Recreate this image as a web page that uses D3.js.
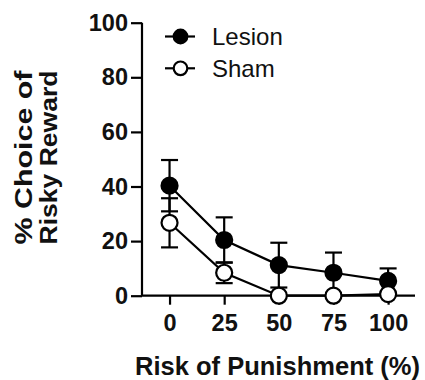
<!DOCTYPE html>
<html><head><meta charset="utf-8">
<script src="https://cdn.jsdelivr.net/npm/d3@7"></script>
<style>body{margin:0;background:#fff}svg{display:block}</style>
</head><body>
<script>
const risk = [0, 25, 50, 75, 100];
const lesionMean = [40.3, 20.4, 11.2, 8.4, 5.4];
const lesionErr = [9.4, 8.3, 8.2, 7.4, 4.6];
const shamMean = [26.7, 8.4, 0, 0, 0.6];
const shamErr = [9.0, 3.8, 0, 0, 0];
const yTicks = [0, 20, 40, 60, 80, 100];
const seriesNames = ["Lesion", "Sham"];

const W = 425, H = 380;
const svg = d3.select("body").append("svg").attr("width", W).attr("height", H);
const font = "'Liberation Sans', Arial, sans-serif";

const x = d3.scaleLinear().domain([-12.6, 112.3]).range([142, 415]);
const y = d3.scaleLinear().domain([0, 100]).range([295.7, 22.7]);

// axes
const yAxis = svg.append("g").attr("transform", "translate(142,0)")
  .call(d3.axisLeft(y).tickValues(yTicks).tickSize(11).tickPadding(3));
const xAxis = svg.append("g").attr("transform", "translate(0,295.7)")
  .call(d3.axisBottom(x).tickValues(risk).tickSize(9).tickPadding(10));
[yAxis, xAxis].forEach(g => {
  g.select(".domain").attr("stroke", "#000").attr("stroke-width", 2.2);
  g.selectAll(".tick line").attr("stroke", "#000").attr("stroke-width", 2.2);
  g.selectAll(".tick text").attr("fill", "#111").style("font-family", font)
    .style("font-size", "23.5px").style("font-weight", "bold");
});
xAxis.select(".domain").attr("d", `M${x.range()[0]},0H${x.range()[1]}`);
yAxis.select(".domain").attr("d", `M0,${y.range()[0]}V${y.range()[1]}`);

// axis titles
svg.append("text").attr("x", 277.5).attr("y", 375).attr("text-anchor", "middle")
  .attr("textLength", 285).attr("lengthAdjust", "spacingAndGlyphs")
  .style("font-family", font).style("font-size", "26px").style("font-weight", "bold")
  .attr("fill", "#111").text("Risk of Punishment (%)");
const yl = svg.append("g").attr("transform", "translate(0,157.5) rotate(-90)");
["% Choice of", "Risky Reward"].forEach((t, i) => {
  yl.append("text").attr("x", 0).attr("y", 32 + i * 25).attr("text-anchor", "middle")
    .attr("textLength", 174).attr("lengthAdjust", "spacingAndGlyphs")
    .style("font-family", font).style("font-size", "24px").style("font-weight", "bold")
    .attr("fill", "#111").text(t);
});

const series = [
  {name: seriesNames[0], mean: lesionMean, err: lesionErr, fill: "#000"},
  {name: seriesNames[1], mean: shamMean, err: shamErr, fill: "#fff"}
];
const capW = 8.5, r = 8;

// error bars
series.forEach(s => {
  const g = svg.append("g");
  risk.forEach((rv, i) => {
    if (s.err[i] <= 0) return;
    const cx = x(rv), hi = y(s.mean[i] + s.err[i]), lo = y(Math.max(0, s.mean[i] - s.err[i]));
    g.append("line").attr("x1", cx).attr("x2", cx).attr("y1", hi).attr("y2", lo)
      .attr("stroke", "#000").attr("stroke-width", 2.2);
    [hi, lo].forEach(yy => g.append("line").attr("x1", cx - capW).attr("x2", cx + capW)
      .attr("y1", yy).attr("y2", yy).attr("stroke", "#000").attr("stroke-width", 2.2));
  });
});
// lines
const line = d3.line().x((d, i) => x(risk[i])).y(d => y(d));
series.forEach(s => {
  svg.append("path").attr("d", line(s.mean)).attr("fill", "none")
    .attr("stroke", "#000").attr("stroke-width", 2.2);
});
// markers
series.forEach(s => {
  svg.append("g").selectAll("circle").data(s.mean).join("circle")
    .attr("cx", (d, i) => x(risk[i])).attr("cy", d => y(d)).attr("r", r)
    .attr("fill", s.fill).attr("stroke", "#000").attr("stroke-width", 2.2);
});

// legend
series.forEach((s, i) => {
  const ly = 36.5 + i * 31.8;
  const g = svg.append("g");
  g.append("line").attr("x1", 165).attr("x2", 195).attr("y1", ly).attr("y2", ly)
    .attr("stroke", "#000").attr("stroke-width", 2.2);
  g.append("circle").attr("cx", 180.5).attr("cy", ly).attr("r", 6.8)
    .attr("fill", s.fill).attr("stroke", "#000").attr("stroke-width", 2.2);
  g.append("text").attr("x", 212).attr("y", ly + 8.5).style("font-family", font)
    .style("font-size", "24px").attr("fill", "#111").text(s.name);
});
</script>
</body></html>
